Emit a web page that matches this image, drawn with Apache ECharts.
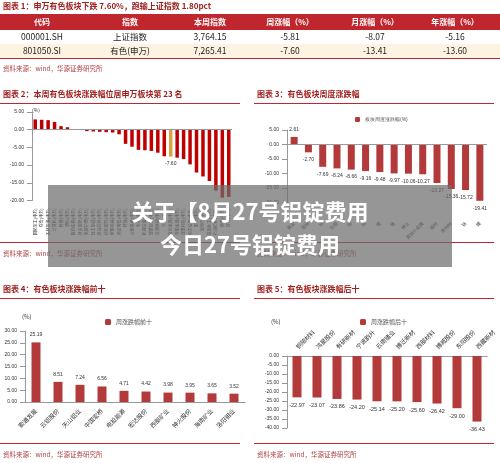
<!DOCTYPE html>
<html><head><meta charset="utf-8">
<script src="https://cdn.jsdelivr.net/npm/echarts@6/dist/echarts.min.js"></script>
<style>html,body{margin:0;padding:0;background:#fff}#c{width:500px;height:463px}</style>
</head><body><div id="c"></div>
<script>
const tableHeader=['代码','指数','本周指数','周涨幅（%）','月涨幅（%）','年涨幅（%）'];
const tableRows=[['000001.SH','上证指数','3,764.15','-5.81','-8.07','-5.16'],['801050.SI','有色(申万)','7,265.41','-7.60','-13.41','-13.60']];
const c2Cats=['国防军工(申万)','综合(申万)','农林牧渔(申万)','计算机(申万)','传媒(申万)','通信(申万)','医药生物(申万)','社会服务(申万)','美容护理(申万)','轻工制造(申万)','食品饮料(申万)','纺织服饰(申万)','家用电器(申万)','商贸零售(申万)','环保(申万)','公用事业(申万)','电子(申万)','机械设备(申万)','建筑装饰(申万)','交通运输(申万)','汽车(申万)','有色金属(申万)','非银金融(申万)','建筑材料(申万)','电力设备(申万)','银行(申万)','房地产(申万)','基础化工(申万)','石油石化(申万)','钢铁(申万)','煤炭(申万)'];
const c2Vals=[2.9,2.8,2.7,2.2,1.0,0.7,0.2,0.0,-0.4,-0.5,-0.6,-0.7,-0.8,-1.3,-4.0,-4.8,-5.7,-5.8,-6.0,-6.5,-7.5,-7.60,-7.9,-8.3,-9.8,-12.1,-13.2,-14.5,-17.2,-19.2,-19.0];
const c3Cats=['黄金','铅锌','铜','白银','铝','钨','镍','锡','稀土','其他小金属','磁材','新材料','钴','锂'];
const c3Vals=[2.61,-2.70,-7.69,-8.24,-8.66,-9.16,-9.48,-9.97,-10.06,-10.27,-13.27,-15.36,-15.72,-19.41];
const c4Cats=['索通发展','云铝股份','天山铝业','中国宏桥','电投能源','宏达股份','西部矿业','神火股份','海南矿业','洛阳钼业'];
const c4Vals=[25.19,8.51,7.24,6.56,4.71,4.42,3.98,3.95,3.65,3.52];
const c5Cats=['铜陵材料','鸿星股份','有研新材','宁波韵升','云南锗业','博迁新材','西部材料','博威股份','东阳股份','西藏新材'];
const c5Vals=[-22.97,-23.07,-23.86,-24.20,-25.14,-25.20,-25.60,-26.42,-29.00,-36.43];

const F='"Noto Sans CJK SC"';
const RED='#c0262d', BAR='#b23a3a';
const g=[];
function txt(x,y,s,o){g.push(Object.assign({type:'text',x:x,y:y,style:Object.assign({text:s,font:'9px '+F,fill:'#333'},o||{})}));}
function rect(x,y,w,h,fill){g.push({type:'rect',shape:{x:x,y:y,width:w,height:h},style:{fill:fill}});}
txt(3,2,'图表 1：申万有色板块下跌 7.60%，跑输上证指数 1.80pct',{fill:'#a02020',font:'bold 8px '+F});
rect(0,14,500,16,RED); rect(0,44,500,14,'#fdf3e0'); rect(0,58,500,1,'#c0262d');
const colX=[42,130,210,290,375,455];
tableHeader.forEach((h,i)=>txt(colX[i],22,h,{fill:'#fff',font:'bold 8px '+F,align:'center',verticalAlign:'middle'}));
tableRows.forEach((r,j)=>r.forEach((v,i)=>txt(colX[i],37+j*14,v,{font:'8.5px '+F,fill:'#222',align:'center',verticalAlign:'middle'})));
txt(3,65,'资料来源：wind，华源证券研究所',{fill:'#b04040',font:'6.5px '+F});
[[3,90,'图表 2：本周有色板块涨跌幅位居申万板块第 23 名'],[257,90,'图表 3：有色板块周度涨跌幅'],[3,285,'图表 4：有色板块涨跌幅前十'],[257,285,'图表 5：有色板块涨跌幅后十']].forEach(t=>{
 txt(t[0],t[1],t[2],{fill:'#a02020',font:'bold 8px '+F});
 rect(t[0]-3,t[1]+13,240,1,RED);
});
[[3,250],[257,250],[3,451],[257,451]].forEach(p=>{rect(p[0]-3,p[1]-8,240,1,RED);txt(p[0],p[1],'资料来源：wind，华源证券研究所',{fill:'#b04040',font:'6.5px '+F});});
txt(32,108,'(%)',{font:'5px '+F,fill:'#333'});
txt(22,314,'(%)',{font:'6px '+F,fill:'#333'});
txt(271,319,'(%)',{font:'6px '+F,fill:'#333'});
g.push({type:'rect',z:100,shape:{x:48,y:185,width:404,height:82},style:{fill:'rgba(110,110,110,0.72)'}});
g.push({type:'text',z:101,x:250,y:212,style:{text:'关于【8月27号铝锭费用',font:'bold 22px '+F,fill:'#fff',align:'center',verticalAlign:'middle'}});
g.push({type:'text',z:101,x:250,y:245,style:{text:'今日27号铝锭费用',font:'bold 22px '+F,fill:'#fff',align:'center',verticalAlign:'middle'}});

const yl={fontSize:5,color:'#333',formatter:v=>v.toFixed(2)};
const yax=(gi,min,max,int)=>({gridIndex:gi,min:min,max:max,interval:int,axisLabel:yl,splitLine:{show:false},axisLine:{show:true,lineStyle:{color:'#999'}},axisTick:{show:true,lineStyle:{color:'#999'}}});
const zl={silent:true,symbol:'none',label:{show:false},lineStyle:{color:'#999',type:'solid',width:1},data:[{yAxis:0}]};
const opt={animation:false,graphic:g,
grid:[{left:32,top:112,width:200,height:88.5},{left:287,top:130,width:200,height:72.5},{left:25,top:331,width:220,height:71},{left:287,top:356,width:200,height:72}],
legend:[{data:['板块周度涨跌幅(%)'],left:350,top:112,itemWidth:5,itemHeight:5,textStyle:{fontSize:5}},
{data:['周涨跌幅前十'],left:100,top:314,itemWidth:6,itemHeight:6,textStyle:{fontSize:6,fontFamily:F}},
{data:['周涨跌幅后十'],left:355,top:314,itemWidth:6,itemHeight:6,textStyle:{fontSize:6,fontFamily:F}}],
xAxis:[
{gridIndex:0,type:'category',data:c2Cats,axisLine:{show:false},axisTick:{show:false},axisLabel:{interval:0,rotate:90,fontSize:4,color:'#333',fontFamily:F}},
{gridIndex:1,type:'category',data:c3Cats,axisLine:{show:false},axisTick:{show:false},axisLabel:{interval:0,rotate:45,fontSize:4.5,color:'#333',fontFamily:F,margin:20}},
{gridIndex:2,type:'category',data:c4Cats,axisLine:{lineStyle:{color:'#999'}},axisTick:{show:false},axisLabel:{interval:0,rotate:45,fontSize:6,color:'#333',fontFamily:F}},
{gridIndex:3,type:'category',position:'top',data:c5Cats,axisLine:{lineStyle:{color:'#999'}},axisTick:{show:false},axisLabel:{interval:0,rotate:45,fontSize:6,color:'#333',fontFamily:F}}],
yAxis:[yax(0,-20,5,5),yax(1,-20,5,5),yax(2,0,30,5),yax(3,-40,0,5)],
series:[
{type:'bar',xAxisIndex:0,yAxisIndex:0,barWidth:3.5,data:c2Vals.map((v,i)=>i===21?{value:v,itemStyle:{color:'#d9a53f'},label:{show:true,position:'bottom',fontSize:5,color:'#333',formatter:p=>p.value.toFixed(2)}}:v),itemStyle:{color:'#c00000'},markLine:zl},
{type:'bar',name:'板块周度涨跌幅(%)',xAxisIndex:1,yAxisIndex:1,barWidth:7,data:c3Vals.map(v=>({value:v,label:{position:v>=0?'top':'bottom'}})),itemStyle:{color:BAR},label:{show:true,fontSize:5,color:'#333',formatter:p=>p.value.toFixed(2)},markLine:zl},
{type:'bar',name:'周涨跌幅前十',xAxisIndex:2,yAxisIndex:2,barWidth:9,data:c4Vals,itemStyle:{color:BAR},label:{show:true,position:'top',fontSize:5,color:'#333',formatter:p=>p.value.toFixed(2)}},
{type:'bar',name:'周涨跌幅后十',xAxisIndex:3,yAxisIndex:3,barWidth:9,data:c5Vals,itemStyle:{color:BAR},label:{show:true,position:'bottom',fontSize:5.5,color:'#333',formatter:p=>p.value.toFixed(2)}}
]};
echarts.init(document.getElementById('c')).setOption(opt);
</script></body></html>
